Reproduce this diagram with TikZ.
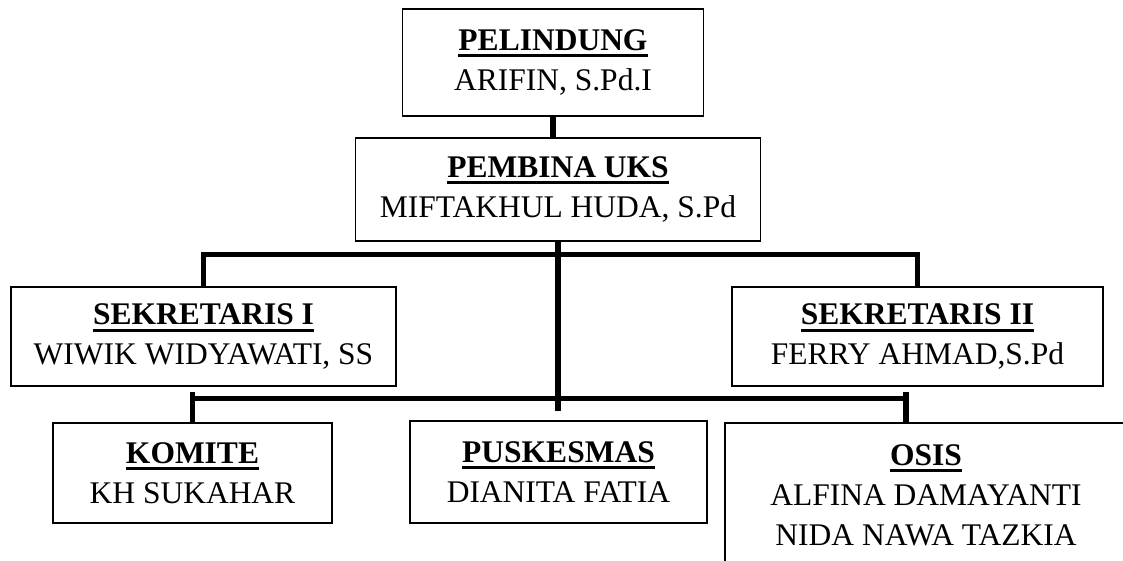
\documentclass[tikz,border=0pt]{standalone}
\usepackage{fontspec}
\setmainfont{Liberation Serif}
\usepackage{tikz}
\newcommand{\ulbf}[1]{\setbox0\hbox{\bfseries #1}\leavevmode\rlap{\rule[-7pt]{\wd0}{3pt}}\box0}

\begin{document}
\begin{tikzpicture}[x=1pt, y=1pt, font=\fontsize{31.5}{40}\selectfont,
    unit/.style={rectangle, draw, line width=1.3pt, align=center, inner sep=0pt},
    link/.style={line width=5.5pt}]
    \useasboundingbox (0,0) rectangle (1123,561);
    \clip (0,0) rectangle (1123,561);
    \node[unit, minimum width=301pt, minimum height=107pt] (pelindung) at (553,498.5) {\ulbf{PELINDUNG}\\ARIFIN, S.Pd.I};
    \node[unit, minimum width=405pt, minimum height=103pt] (pembina) at (558,371.5) {\ulbf{PEMBINA UKS}\\MIFTAKHUL HUDA, S.Pd};
    \node[unit, minimum width=385pt, minimum height=99pt] (sek1) at (203.5,224.5) {\ulbf{SEKRETARIS I}\\WIWIK WIDYAWATI, SS};
    \node[unit, minimum width=371pt, minimum height=99pt] (sek2) at (917.5,224.5) {\ulbf{SEKRETARIS II}\\FERRY AHMAD,S.Pd};
    \node[unit, minimum width=279pt, minimum height=100pt] (komite) at (192.5,88) {\ulbf{KOMITE}\\KH SUKAHAR};
    \node[unit, minimum width=297pt, minimum height=102pt] (puskesmas) at (558.5,89) {\ulbf{PUSKESMAS}\\DIANITA FATIA};
    \node[unit, minimum width=402pt, minimum height=144pt] (osis) at (926,66) {\ulbf{OSIS}\\ALFINA DAMAYANTI\\NIDA NAWA TAZKIA};
    \coordinate (trunkend) at (558,150);
    \draw[link] (pelindung.south) -- (pelindung.south |- pembina.north);
    \draw[link] (pembina.south) -- (trunkend);
    \draw[link] (sek1.north) -- ++(0,32) -| (sek2.north);
    \draw[link] (komite.north) -- ++(0,30);
    \draw[link] ([xshift=-20pt]osis.north) -- ++(0,30);
    \draw[link] ([yshift=24pt]komite.north) -- ([xshift=-20pt,yshift=24pt]osis.north);
\end{tikzpicture}
\end{document}
